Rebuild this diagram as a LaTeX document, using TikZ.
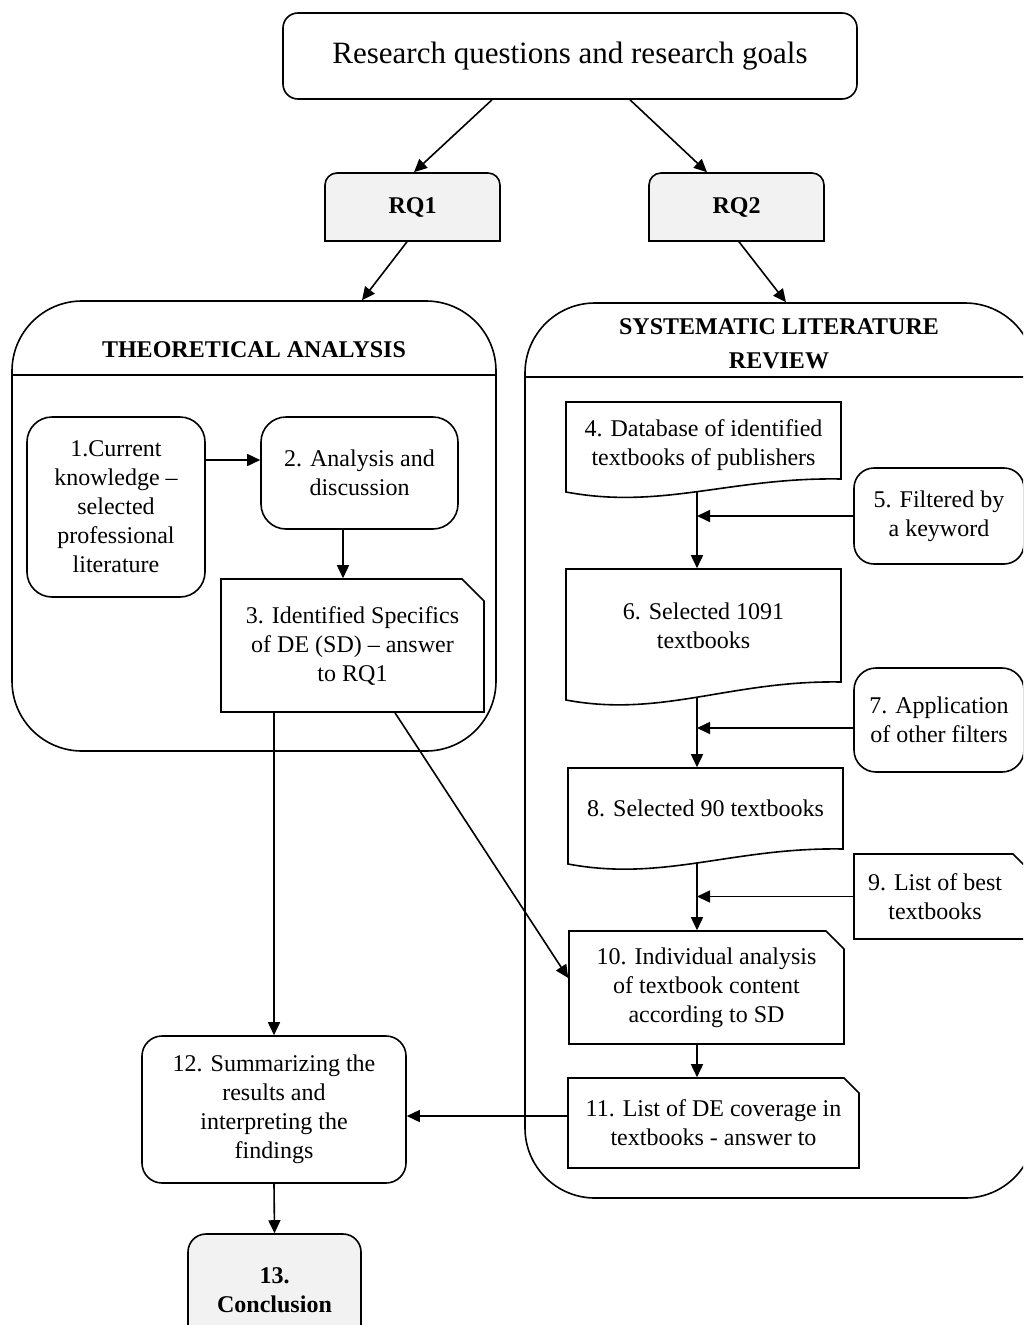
\documentclass[tikz,border=0pt]{standalone}
\usepackage{fontspec}
\setmainfont{Liberation Serif}
\usetikzlibrary{arrows.meta}

\definecolor{qgray}{RGB}{242,242,242}
\newcommand{\bodyfont}{\fontsize{24}{29}\selectfont}
\newcommand{\titlefont}{\fontsize{24}{34}\selectfont\bfseries}

\begin{document}
\begin{tikzpicture}[x=1pt,y=1pt,yscale=-1,xscale=1,line width=1.6pt,
  rbox/.style={draw, fill=white, rounded corners=22pt, align=center, inner sep=0pt, font=\bodyfont},
  tbox/.style={align=center, inner sep=0pt, font=\bodyfont},
  qbox/.style={align=center, inner sep=0pt, font=\bodyfont\bfseries},
  headtitle/.style={align=center, inner sep=0pt, font=\titlefont},
  frame/.style={draw, rounded corners=70pt, inner sep=0pt},
  arr/.style={-{Triangle[length=13pt,width=12pt]}}]
%set diagram size to 1023 x 1325
\useasboundingbox (0,0) rectangle (1023,1325);
\clip (0,0) rectangle (1023,1325);

%Shape: Rounded Rect [theoretical analysis]
\node[frame, minimum width=484pt, minimum height=450pt] (ta) at (254,526) {};
\draw (12,375) -- (496,375);
% Text Node
\node[headtitle] (ta title) at (254,350) {THEORETICAL ANALYSIS};

%Shape: Rounded Rect [systematic review]
\node[frame, minimum width=510pt, minimum height=895pt] (slr) at (780,750.5) {};
\draw (525,377) -- (1035,377);
% Text Node
\node[headtitle] (slr title) at (779,344) {SYSTEMATIC LITERATURE\\REVIEW};

% Text Node
\node[rbox, rounded corners=15pt, minimum width=574pt, minimum height=86pt, font=\fontsize{31}{37}\selectfont] (goals) at (570,56) {Research questions and research goals};

%Shape: Round Same Side Corner Rect [RQ1]
\draw[fill=qgray] (325,241) -- (325,185) .. controls (325,178.4) and (330.4,173) .. (337,173) -- (488,173) .. controls (494.6,173) and (500,178.4) .. (500,185) -- (500,241) -- cycle ;
\node[qbox, minimum width=175pt, minimum height=68pt] (rq1) at (412.5,207) {RQ1};
%Shape: Round Same Side Corner Rect [RQ2]
\draw[fill=qgray] (649,241) -- (649,185) .. controls (649,178.4) and (654.4,173) .. (661,173) -- (812,173) .. controls (818.6,173) and (824,178.4) .. (824,185) -- (824,241) -- cycle ;
\node[qbox, minimum width=175pt, minimum height=68pt] (rq2) at (736.5,207) {RQ2};

% Text Node
\node[rbox, rounded corners=25pt, minimum width=178pt, minimum height=180pt] (b1) at (116,507) {1.Current\\knowledge –\\selected\\professional\\literature};
% Text Node
\node[rbox, rounded corners=25pt, minimum width=197pt, minimum height=112pt] (b2) at (359.5,473) {2. Analysis and\\discussion};

%Shape: Snip Single Corner Rect [3]
\draw[fill=white] (221,579) -- (462,579) -- (484,601) -- (484,712) -- (221,712) -- cycle ;
\node[tbox, minimum width=263pt, minimum height=133pt] (b3) at (352.5,645.5) {3. Identified Specifics\\of DE (SD) – answer\\to RQ1};

%Shape: Document [4]
\draw[fill=white] (566,402) -- (841,402) -- (841,479) .. controls (731,477) and (662,510) .. (566,492) -- cycle ;
\node[tbox, minimum width=275pt, minimum height=86pt] (b4) at (703.5,445) {4. Database of identified\\textbooks of publishers};
\coordinate (b4 bot) at (697,491.5);

% Text Node
\node[rbox, rounded corners=20pt, minimum width=170pt, minimum height=96pt] (b5) at (939,516) {5. Filtered by\\a keyword};

%Shape: Document [6]
\draw[fill=white] (566,569) -- (841,569) -- (841,682) .. controls (731,680) and (662,718) .. (566,700) -- cycle ;
\node[tbox, minimum width=275pt, minimum height=114pt] (b6) at (703.5,626) {6. Selected 1091\\textbooks};
\coordinate (b6 bot) at (697,697);

% Text Node
\node[rbox, rounded corners=22pt, minimum width=170pt, minimum height=104pt] (b7) at (939,720) {7. Application\\of other filters};

%Shape: Document [8]
\draw[fill=white] (568,768) -- (843,768) -- (843,849) .. controls (733,847) and (664,882) .. (568,864) -- cycle ;
\node[tbox, minimum width=275pt, minimum height=80pt] (b8) at (705.5,808) {8. Selected 90 textbooks};
\coordinate (b8 bot) at (697,863);

%Shape: Snip Single Corner Rect [9]
\draw[fill=white] (854,854) -- (1013,854) -- (1035,876) -- (1035,939) -- (854,939) -- cycle ;
\node[tbox, minimum width=162pt, minimum height=85pt] (b9) at (935,896.5) {9. List of best\\textbooks};

%Shape: Snip Single Corner Rect [10]
\draw[fill=white] (569,931) -- (826,931) -- (844,949) -- (844,1044) -- (569,1044) -- cycle ;
\node[tbox, minimum width=275pt, minimum height=113pt] (b10) at (706.5,987.5) {10. Individual analysis\\of textbook content\\according to SD};

%Shape: Snip Single Corner Rect [11]
\draw[fill=white] (568,1078) -- (844,1078) -- (859,1093) -- (859,1168) -- (568,1168) -- cycle ;
\node[tbox, minimum width=291pt, minimum height=90pt] (b11) at (713.5,1123) {11. List of DE coverage in\\textbooks - answer to};

% Text Node
\node[rbox, rounded corners=20pt, minimum width=264pt, minimum height=147pt] (b12) at (274,1109.5) {12. Summarizing the\\results and\\interpreting the\\findings};
% Text Node
\node[rbox, fill=qgray, rounded corners=18pt, minimum width=173pt, minimum height=112pt, font=\bodyfont\bfseries] (b13) at (274.5,1290) {13.\\Conclusion};

%Straight Lines with arrows
\draw[arr] ([xshift=-78pt]goals.south) -- ([xshift=1.5pt]rq1.north);
\draw[arr] ([xshift=60pt]goals.south) -- ([xshift=-29.5pt]rq2.north);
\draw[arr] ([xshift=-5.5pt]rq1.south) -- ([xshift=108pt]ta.north);
\draw[arr] ([xshift=2.5pt]rq2.south) -- ([xshift=6pt]slr.north);

\coordinate (c12) at ([yshift=-47pt]b1.east);
\draw[arr] (c12) -- (c12 -| b2.west);
\coordinate (c23) at ([xshift=-16.5pt]b2.south);
\draw[arr] (c23) -- (c23 |- b3.north);
\draw[arr] (b12.north |- b3.south) -- (b12.north);
\draw[arr] ([xshift=42.5pt]b3.south) -- ([yshift=-9.5pt]b10.west);

\draw[arr] (b4 bot) -- (b4 bot |- b6.north);
\draw[arr] (b6 bot) -- (b6 bot |- b8.north);
\draw[arr] (b8 bot) -- (b8 bot |- b10.north);
\draw[arr] (b10.south -| b8 bot) -- (b8 bot |- b11.north);
\draw[arr] (b5.west) -- (b5.west -| b4 bot);
\coordinate (c7) at ([yshift=8pt]b7.west);
\draw[arr] (c7) -- (c7 -| b6 bot);
\draw[arr] (b9.west) -- (b9.west -| b8 bot);

\coordinate (c11) at ([yshift=-7pt]b11.west);
\draw[arr] (c11) -- (c11 -| b12.east);
\draw[arr] (b12.south) -- (b13.north);

\end{tikzpicture}
\end{document}
